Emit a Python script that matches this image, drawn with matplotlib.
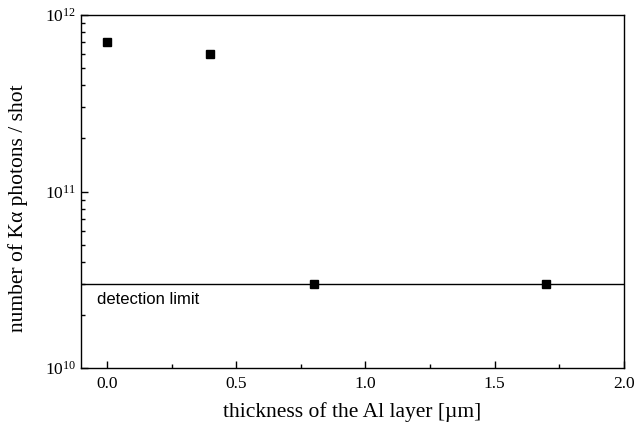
import matplotlib
matplotlib.use("Agg")
import matplotlib.pyplot as plt
from matplotlib.ticker import LogLocator, FixedLocator, NullFormatter, LogFormatterSciNotation

plt.rcParams['font.family'] = ['Liberation Serif', 'DejaVu Serif']
plt.rcParams['mathtext.fontset'] = 'custom'
plt.rcParams['mathtext.rm'] = 'Liberation Serif'
plt.rcParams['mathtext.it'] = 'Liberation Serif:italic'

thickness = [0.0, 0.4, 0.8, 1.7]
photons = [7.0e11, 6.0e11, 3.0e10, 3.0e10]
detection_limit = 3.0e10
x_ticks = [0.0, 0.5, 1.0, 1.5, 2.0]
x_tick_labels = ["0.0", "0.5", "1.0", "1.5", "2.0"]

fig = plt.figure(figsize=(6.34, 4.28), dpi=100)
ax = fig.add_axes([0.128, 0.140, 0.856, 0.825])

ax.axhline(detection_limit, color='black', lw=1.0)
ax.plot(thickness, photons, linestyle='none', marker='s', markersize=6, color='black')
ax.annotate("detection limit", xy=(-0.04, detection_limit), xytext=(0, -6),
            textcoords='offset points', family=['Liberation Sans', 'DejaVu Sans'],
            fontsize=12, va='top', ha='left')

ax.set_yscale('log')
ax.set_xlim(-0.1, 2.0)
ax.set_ylim(1e10, 1e12)
ax.set_xticks(x_ticks)
ax.set_xticklabels(x_tick_labels)
ax.xaxis.set_minor_locator(FixedLocator([0.25, 0.75, 1.25, 1.75]))
ax.yaxis.set_major_locator(LogLocator(base=10, numticks=10))
ax.yaxis.set_major_formatter(LogFormatterSciNotation())
ax.yaxis.set_minor_locator(LogLocator(base=10, subs=range(2, 10), numticks=20))
ax.yaxis.set_minor_formatter(NullFormatter())

ax.tick_params(which='both', direction='in', top=False, right=False, labelsize=12.5)
ax.tick_params(which='major', length=5, width=1)
ax.tick_params(which='minor', length=3, width=1)
ax.tick_params(axis='x', pad=6)
for s in ax.spines.values():
    s.set_linewidth(1.0)

ax.set_xlabel("thickness of the Al layer [\u00b5m]", fontsize=15.5, labelpad=7)
ax.set_ylabel("number of K\u03b1 photons / shot", fontsize=15.5)
ax.yaxis.set_label_coords(-0.098, 0.453)

fig.savefig("out.png", dpi=100)
